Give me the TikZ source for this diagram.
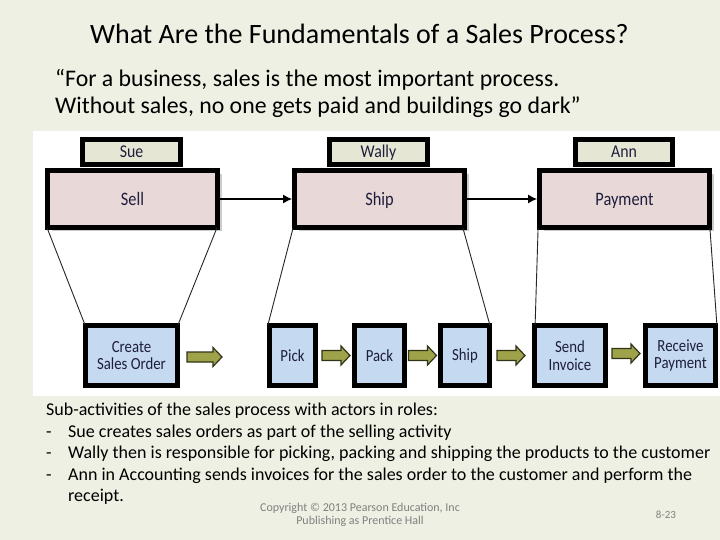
\documentclass[tikz,border=0pt]{standalone}
\usepackage{fontspec}
\setmainfont{Carlito}
\usetikzlibrary{shadows,arrows.meta,calc}
\definecolor{bg}{RGB}{237,240,226}
\definecolor{actor}{RGB}{230,230,212}
\definecolor{proc}{RGB}{232,216,216}
\definecolor{sub}{RGB}{197,217,241}
\definecolor{ink}{RGB}{30,30,60}
\definecolor{olivefill}{RGB}{158,162,72}
\definecolor{oliveline}{RGB}{50,52,25}
\tikzset{
  actorbox/.style={draw=black, line width=4.8pt, fill=actor, inner sep=0pt,
     font=\fontsize{18}{20}\selectfont\addfontfeature{FakeStretch=0.88}, text=ink,
     text height=11.6pt, text depth=0pt},
  procbox/.style={draw=black, line width=4.8pt, fill=proc, inner sep=0pt,
     font=\fontsize{19}{21}\selectfont\addfontfeature{FakeStretch=0.86}, text=ink,
     text height=12.2pt, text depth=0pt,
     drop shadow={shadow xshift=4pt, shadow yshift=-4pt, fill=black!20, opacity=1}},
  subbox/.style={draw=black, line width=4.8pt, fill=sub, inner sep=0pt,
     font=\fontsize{17}{17.5}\selectfont\addfontfeature{FakeStretch=0.87}, text=ink, align=center},
  greenarrow/.style={draw=oliveline, fill=olivefill, line width=1.2pt, line join=miter},
  pics/garrow/.style={code={
     \draw[greenarrow] (0,-5) -- (#1-9,-5) -- (#1-9,-9.5) -- (#1,0) -- (#1-9,9.5) -- (#1-9,5) -- (0,5) -- cycle;}},
  flow/.style={line width=1.3pt, -{Latex[length=9pt,width=9pt]}},
  funnel/.style={line width=0.9pt, black!85},
  body/.style={anchor=base west, inner sep=0pt, font=\fontsize{18}{21}\selectfont},
}
\begin{document}
\begin{tikzpicture}[x=1pt,y=-1pt]
\useasboundingbox (0,0) rectangle (720,540);
\fill[bg] (0,0) rectangle (720,540);
\fill[white] (33,131) rectangle (720,396);

\node[anchor=base west, inner sep=0pt, font=\fontsize{28}{32}\selectfont] (title) at (90,44) {What Are the Fundamentals of a Sales Process?};
\node[anchor=base west, inner sep=0pt, font=\fontsize{23.8}{28}\selectfont] (q1) at (55,87) {“For a business, sales is the most important process.};
\node[anchor=base west, inner sep=0pt, font=\fontsize{23.8}{28}\selectfont] (q2) at (55,113.5) {Without sales, no one gets paid and buildings go dark”};

% actor boxes
\node[actorbox, minimum width=98pt, minimum height=25pt] (sue) at (131.5,152) {Sue};
\node[actorbox, minimum width=98pt, minimum height=25pt] (wally) at (378.5,152) {Wally};
\node[actorbox, minimum width=97pt, minimum height=25pt] (ann) at (624,152) {Ann};

% process boxes
\node[procbox, minimum width=170pt, minimum height=57pt] (sell) at (132.5,199) {Sell};
\node[procbox, minimum width=170pt, minimum height=57pt] (ship) at (379.5,199) {Ship};
\node[procbox, minimum width=170pt, minimum height=57pt] (pay) at (624.5,199) {Payment};

\draw[flow] (sell) -- (ship);
\draw[flow] (ship) -- (pay);

% sub-activity boxes
\node[subbox, minimum width=92pt, minimum height=60pt] (create) at (131.5,355.5) {Create\\Sales Order};
\node[subbox, minimum width=46.5pt, minimum height=60pt] (pick) at (292.5,355.5) {Pick};
\node[subbox, minimum width=50pt, minimum height=60pt] (pack) at (379.5,355.5) {Pack};
\node[subbox, minimum width=49pt, minimum height=60pt] (shipsub) at (465,355.5) {Ship};
\node[subbox, minimum width=71pt, minimum height=60pt] (send) at (570,355.5) {Send\\Invoice};
\node[subbox, minimum width=70pt, minimum height=60pt] (recv) at (680.5,355.5) {Receive\\Payment};

% funnel lines
\draw[funnel] ([xshift=2pt,yshift=2pt]sell.south west) -- ([xshift=2pt,yshift=-2pt]create.north west);
\draw[funnel] ([xshift=-3pt,yshift=2pt]sell.south east) -- ([xshift=-2pt,yshift=-2pt]create.north east);
\draw[funnel] ([xshift=1pt,yshift=2pt]ship.south west) -- ([xshift=1pt,yshift=-2pt]pick.north west);
\draw[funnel] ([xshift=-4pt,yshift=2pt]ship.south east) -- ([xshift=-2pt,yshift=-2pt]shipsub.north east);
\draw[funnel] ([xshift=1pt,yshift=2pt]pay.south west) -- ([xshift=3pt,yshift=-2pt]send.north west);
\draw[funnel] ([xshift=-2pt,yshift=2pt]pay.south east) -- ([xshift=-1pt,yshift=-2pt]recv.north east);

% green arrows
\pic (g1) at (187,357) {garrow=35};
\pic (g2) at (322,355.5) {garrow=28};
\pic (g3) at (408.5,355.5) {garrow=28};
\pic (g4) at (497,355.5) {garrow=28};
\pic (g5) at (612,353.5) {garrow=28};

% body text
\node[body] (t1) at (46,415) {Sub-activities of the sales process with actors in roles:};
\node[body] (d2) at (46,437) {-};
\node[body] (t2) at (68,437) {Sue creates sales orders as part of the selling activity};
\node[body] (d3) at (46,458.5) {-};
\node[body] (t3) at (68,458.5) {Wally then is responsible for picking, packing and shipping the products to the customer};
\node[body] (d4) at (46,480) {-};
\node[body] (t4) at (68,480) {Ann in Accounting sends invoices for the sales order to the customer and perform the};
\node[body] (t5) at (68,501.5) {receipt.};

\node[align=center, inner sep=0pt, text=black!50, font=\fontsize{12}{13}\selectfont] (copy) at (360,514.5) {Copyright © 2013 Pearson Education, Inc\\Publishing as Prentice Hall};
\node[inner sep=0pt, text=black!50, font=\fontsize{11}{13}\selectfont] (pg) at (666,515) {8-23};
\end{tikzpicture}
\end{document}
